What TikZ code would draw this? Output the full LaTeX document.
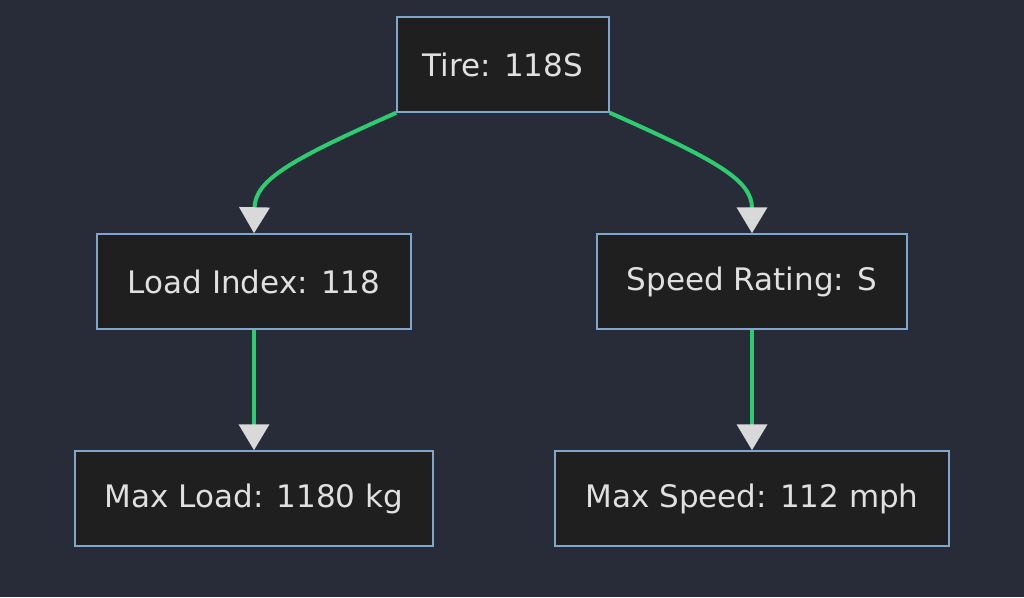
\documentclass[tikz,border=0pt]{standalone}
\usepackage{fontspec}
\setmainfont{DejaVu Sans}
\usetikzlibrary{arrows.meta}
\definecolor{bgcol}{HTML}{282C38}
\definecolor{boxcol}{HTML}{1F1F1F}
\definecolor{edgecol}{HTML}{7FA6CC}
\definecolor{linkcol}{HTML}{2ECC71}
\definecolor{tipcol}{HTML}{D9D9D9}
\definecolor{txtcol}{HTML}{E0E0E0}
\tikzset{
	box/.style={draw=edgecol,fill=boxcol,line width=1.5pt,minimum height=95pt,
		text=txtcol,font=\fontsize{31}{36}\selectfont,inner sep=0pt},
	link/.style={draw=linkcol,line width=4pt,
		-{Triangle[width=30pt,length=26pt,color=tipcol,fill=tipcol]}}
}
\begin{document}
\begin{tikzpicture}[x=1pt,y=-1pt]
		\fill[bgcol] (0,0) rectangle (1024,597);
		\useasboundingbox (0,0) rectangle (1024,597);

		\node[box,minimum width=212pt] (tire) at (503,64.5) {Tire: 118S};
		\node[box,minimum width=314pt] (load) at (254,281.5) {Load Index: 118};
		\node[box,minimum width=310pt] (speed) at (752,281.5) {Speed Rating: S};
		\node[box,minimum width=358pt] (maxload) at (254,498.5) {Max Load: 1180 kg};
		\node[box,minimum width=394pt] (maxspeed) at (752,498.5) {Max Speed: 112 mph};

		\draw[link] (tire.south west) .. controls (290,160) and (255,180) .. (load.north);
		\draw[link] (tire.south east) .. controls (716,160) and (752,180) .. (speed.north);
		\draw[link] (load) -- (maxload);
		\draw[link] (speed) -- (maxspeed);
	\end{tikzpicture}
\end{document}
